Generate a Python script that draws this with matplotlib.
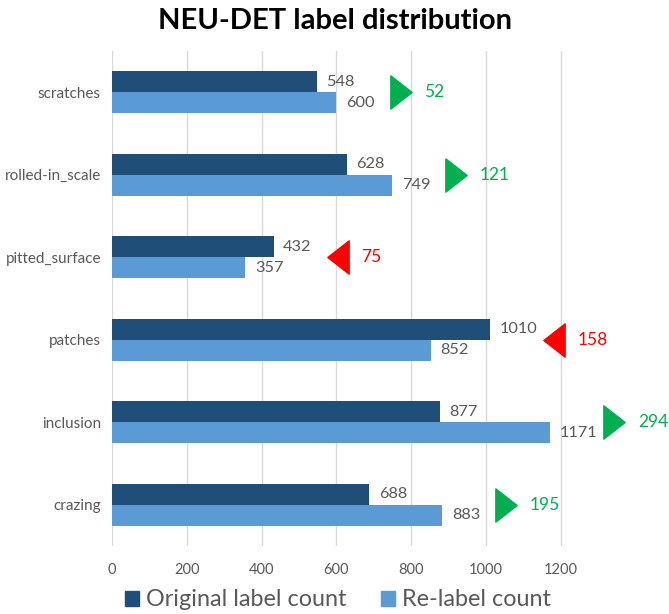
import numpy as np
import matplotlib.pyplot as plt
from matplotlib.patches import Patch
from matplotlib.path import Path

plt.rcParams['font.family'] = ['Lato', 'DejaVu Sans']

# data, bottom to top
categories = ['crazing', 'inclusion', 'patches', 'pitted_surface', 'rolled-in_scale', 'scratches']
original = [688, 877, 1010, 432, 628, 548]
relabel = [883, 1171, 852, 357, 749, 600]
xticks = [0, 200, 400, 600, 800, 1000, 1200]

dark = '#1F4E79'
light = '#5B9BD5'
grey = '#595959'

fig = plt.figure(figsize=(6.69, 6.14), dpi=100)
ax = fig.add_axes([0.1674, 0.1107, 0.7825, 0.806])

y = np.arange(len(categories))
h = 0.255
ax.barh(y + h / 2, original, height=h, color=dark, zorder=3)
ax.barh(y - h / 2, relabel, height=h, color=light, zorder=3)

for i in range(len(categories)):
    ax.annotate(str(original[i]), (original[i], y[i] + h / 2), xytext=(7, 0),
                textcoords='offset points', va='center', ha='left', fontsize=11.8, color=grey)
    ax.annotate(str(relabel[i]), (relabel[i], y[i] - h / 2), xytext=(7, 0),
                textcoords='offset points', va='center', ha='left', fontsize=11.8, color=grey)

# change markers
tri_r = Path([(-0.64, -1), (0.64, 0), (-0.64, 1), (-0.64, -1)],
             [Path.MOVETO, Path.LINETO, Path.LINETO, Path.CLOSEPOLY])
tri_l = Path([(0.64, -1), (-0.64, 0), (0.64, 1), (0.64, -1)],
             [Path.MOVETO, Path.LINETO, Path.LINETO, Path.CLOSEPOLY])
for i in range(len(categories)):
    d = relabel[i] - original[i]
    xm = max(original[i], relabel[i]) + 172
    if d > 0:
        col, mk = '#00B050', tri_r
    else:
        col, mk = '#FF0000', tri_l
    ax.plot([xm], [y[i]], marker=mk, markersize=24, color=col, linestyle='none',
            zorder=4, clip_on=False)
    ax.annotate(str(abs(d)), (xm, y[i]), xytext=(17, 0), textcoords='offset points',
                va='center', ha='left', fontsize=12.5, color=col)

ax.set_xlim(0, 1400)
ax.set_ylim(-0.5, len(categories) - 0.5)
ax.set_yticks(y)
ax.set_yticklabels(categories, fontsize=11, color=grey)
ax.set_xticks(xticks)
ax.set_xticklabels([str(t) for t in xticks], fontsize=10.5, color=grey)
ax.tick_params(length=0)
ax.tick_params(axis='x', pad=12)
ax.tick_params(axis='y', pad=8)
for s in ax.spines.values():
    s.set_visible(False)
for t in xticks:
    ax.axvline(t, color='#D9D9D9', linewidth=1, zorder=1)

fig.suptitle('NEU-DET label distribution', fontsize=21, fontweight='bold', y=0.987)

handles = [Patch(color=dark, label='Original label count'),
           Patch(color=light, label='Re-label count')]
fig.legend(handles=handles, loc='center', ncol=2, frameon=False,
           bbox_to_anchor=(0.505, 14 / 614), fontsize=16.8, handlelength=0.6,
           handleheight=0.6, handletextpad=0.3, columnspacing=1.5, labelcolor=grey)

fig.savefig('out.png', dpi=100)
